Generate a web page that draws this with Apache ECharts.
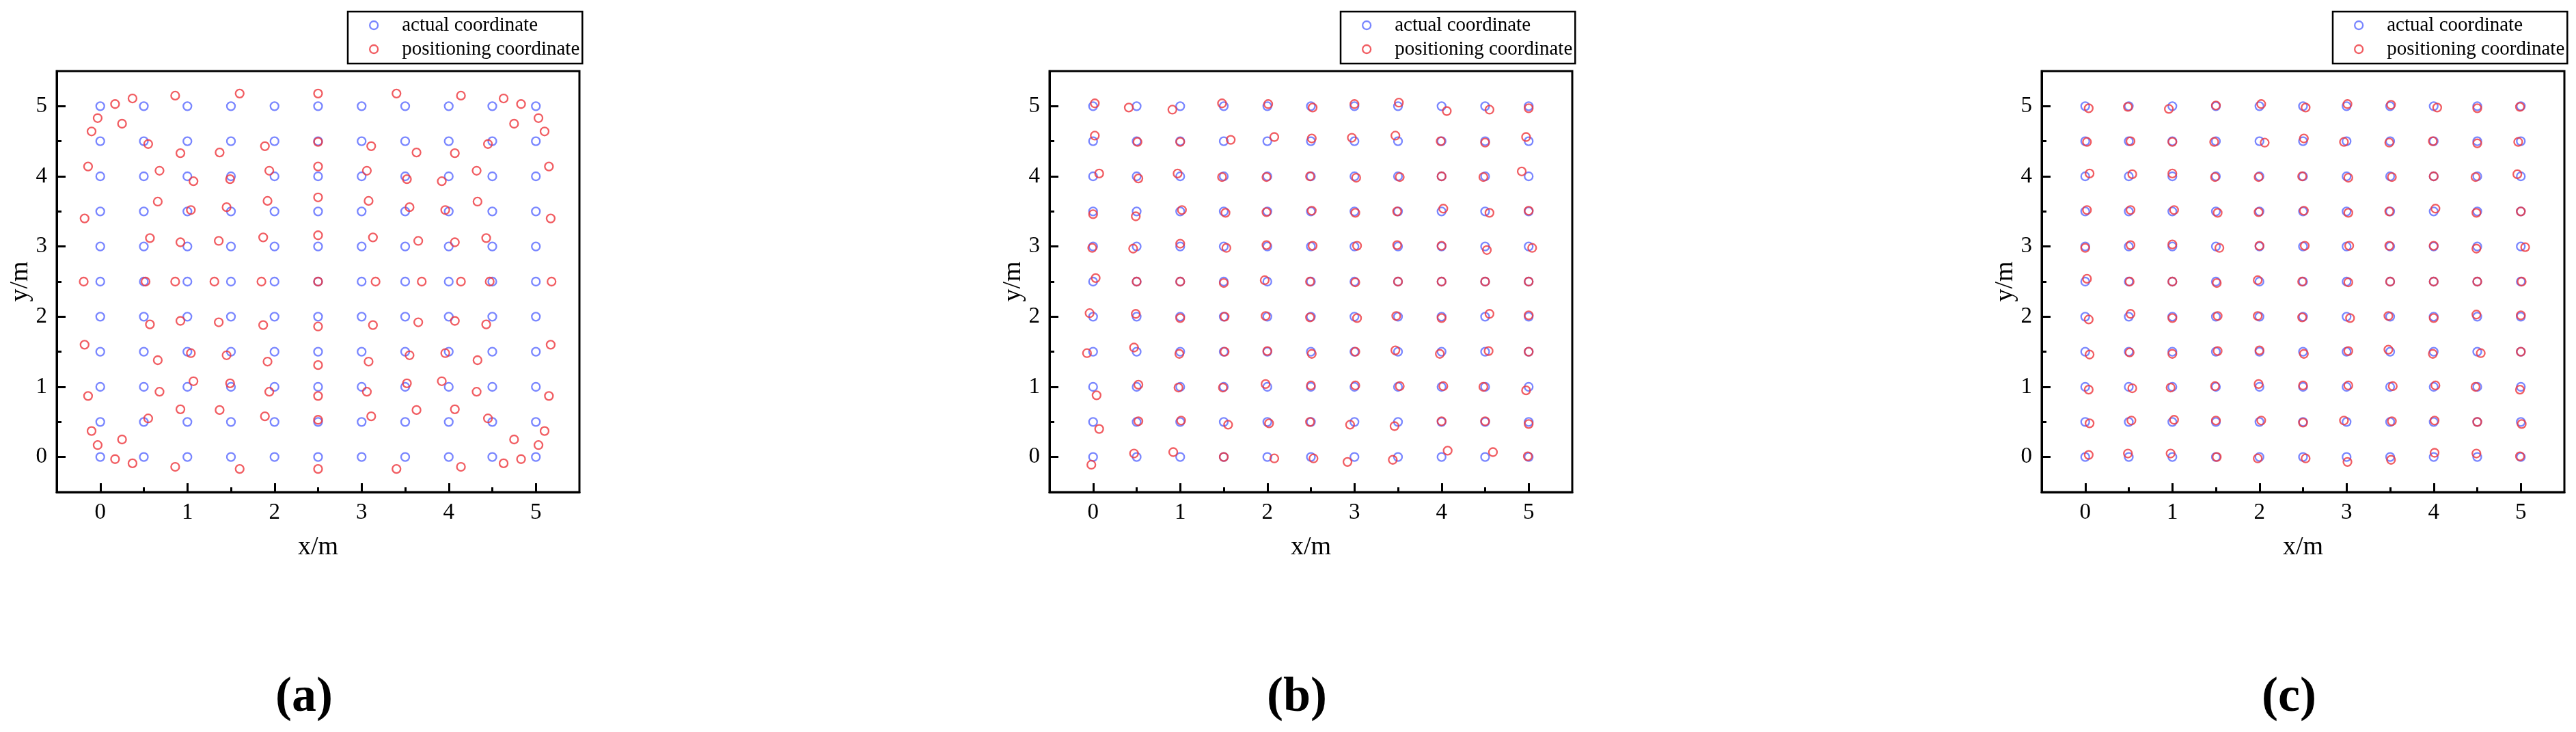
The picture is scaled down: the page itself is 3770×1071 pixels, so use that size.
<!DOCTYPE html>
<html><head><meta charset="utf-8">
<script src="https://cdn.jsdelivr.net/npm/echarts@6/dist/echarts.min.js"></script>
<style>html,body{margin:0;padding:0;background:#fff}#c{width:3770px;height:1071px}</style>
</head><body><div id="c"></div>
<script>
// ---- data ----
const gridValues = [0, 0.5, 1, 1.5, 2, 2.5, 3, 3.5, 4, 4.5, 5];
const majorTicks = [0, 1, 2, 3, 4, 5];
const minorTicks = [0.5, 1.5, 2.5, 3.5, 4.5];
const panelLabels = ['(a)', '(b)', '(c)'];
const seriesNames = ['actual coordinate', 'positioning coordinate'];
const xName = 'x/m';
const yName = 'y/m';

const posA = [
[0.17,5.03],[0.37,5.11],[0.86,5.15],[1.60,5.18],[2.50,5.18],[3.40,5.18],[4.14,5.15],[4.63,5.11],[4.83,5.03],
[-0.03,4.83],[5.03,4.83],[0.25,4.75],[4.75,4.75],[-0.10,4.64],[5.10,4.64],
[0.55,4.46],[0.92,4.33],[1.37,4.34],[1.89,4.43],[2.50,4.49],[3.11,4.43],[3.63,4.34],[4.07,4.33],[4.45,4.46],[-0.14,4.14],[5.15,4.14],
[0.68,4.08],[1.07,3.93],[1.49,3.96],[1.94,4.08],[2.50,4.14],[3.06,4.08],[3.52,3.96],[3.92,3.93],[4.32,4.08],
[-0.18,3.40],[0.66,3.64],[1.04,3.52],[1.45,3.56],[1.92,3.65],[2.50,3.70],[3.08,3.65],[3.55,3.56],[3.96,3.52],[4.33,3.64],[5.17,3.40],
[0.57,3.12],[0.92,3.06],[1.36,3.08],[1.87,3.13],[2.50,3.16],[3.13,3.13],[3.65,3.08],[4.07,3.06],[4.43,3.12],
[-0.19,2.5],[0.52,2.5],[0.86,2.5],[1.31,2.5],[1.85,2.5],[2.50,2.5],[3.16,2.5],[3.69,2.5],[4.14,2.5],[4.47,2.5],[5.18,2.5],
[0.57,1.89],[0.92,1.94],[1.36,1.92],[1.87,1.88],[2.50,1.86],[3.13,1.88],[3.65,1.92],[4.07,1.94],[4.43,1.89],
[-0.18,1.60],[0.66,1.38],[1.04,1.48],[1.45,1.45],[1.92,1.36],[2.50,1.31],[3.08,1.36],[3.55,1.45],[3.96,1.48],[4.33,1.38],[5.17,1.60],
[0.68,0.93],[1.07,1.08],[1.49,1.05],[1.94,0.93],[2.50,0.87],[3.06,0.93],[3.52,1.05],[3.92,1.08],[4.32,0.93],[-0.14,0.87],[5.15,0.87],
[0.55,0.55],[0.92,0.68],[1.37,0.67],[1.89,0.58],[2.50,0.53],[3.11,0.58],[3.63,0.67],[4.07,0.68],[4.45,0.55],
[-0.10,0.37],[5.10,0.37],[0.25,0.25],[4.75,0.25],[-0.03,0.17],[5.03,0.17],
[0.17,-0.03],[0.37,-0.09],[0.86,-0.14],[1.60,-0.17],[2.50,-0.17],[3.40,-0.17],[4.14,-0.14],[4.63,-0.09],[4.83,-0.03]
];

const posB = [
[0.02,5.04],[0.41,4.98],[0.91,4.95],[1.48,5.04],[2.01,5.03],[2.52,4.98],[3.00,5.03],[3.51,5.05],[4.06,4.93],[4.55,4.95],[5.00,4.97],
[0.02,4.58],[0.51,4.49],[1.00,4.49],[1.58,4.52],[2.08,4.56],[2.51,4.54],[2.97,4.55],[3.47,4.58],[3.99,4.50],[4.50,4.48],[4.97,4.56],
[0.07,4.04],[0.52,3.97],[0.97,4.04],[1.48,3.99],[1.99,3.99],[2.49,4.00],[3.02,3.98],[3.52,3.99],[4.00,4.00],[4.48,3.99],[4.92,4.07],
[0.00,3.46],[0.49,3.43],[1.02,3.52],[1.52,3.48],[1.99,3.49],[2.51,3.51],[3.01,3.48],[3.49,3.50],[4.02,3.54],[4.55,3.48],[5.00,3.51],
[-0.01,2.98],[0.46,2.97],[1.00,3.04],[1.53,2.98],[1.99,3.02],[2.52,3.01],[3.03,3.01],[3.49,3.02],[4.00,3.01],[4.52,2.95],[5.04,2.98],
[0.03,2.55],[0.50,2.50],[1.00,2.50],[1.50,2.48],[1.97,2.52],[2.49,2.50],[3.01,2.49],[3.50,2.50],[4.00,2.50],[4.50,2.50],[5.00,2.50],
[-0.04,2.05],[0.49,2.04],[1.00,1.98],[1.51,2.00],[1.98,2.01],[2.49,1.99],[3.03,1.98],[3.48,2.01],[4.00,1.98],[4.55,2.04],[5.00,2.02],
[-0.07,1.48],[0.47,1.56],[0.99,1.47],[1.51,1.50],[2.00,1.51],[2.51,1.47],[3.01,1.50],[3.47,1.52],[3.98,1.47],[4.54,1.51],[5.00,1.50],
[0.04,0.88],[0.52,1.03],[0.98,0.99],[1.49,0.99],[1.98,1.04],[2.50,1.02],[3.01,1.02],[3.52,1.01],[4.02,1.01],[4.48,1.00],[4.97,0.95],
[0.07,0.40],[0.52,0.51],[1.01,0.52],[1.55,0.46],[2.02,0.48],[2.49,0.50],[2.95,0.46],[3.46,0.44],[4.00,0.51],[4.50,0.51],[5.00,0.47],
[-0.02,-0.11],[0.47,0.05],[0.92,0.07],[1.50,0.00],[2.08,-0.02],[2.53,-0.02],[2.92,-0.07],[3.44,-0.04],[4.07,0.09],[4.59,0.07],[4.99,0.01]
];

const posC = [
[0.04,4.97],[0.49,4.99],[0.96,4.96],[1.50,5.01],[2.02,5.03],[2.53,4.98],[3.01,5.03],[3.51,5.02],[4.04,4.98],[4.50,4.97],[4.99,4.99],
[0.02,4.49],[0.52,4.50],[1.00,4.49],[1.48,4.49],[2.06,4.48],[2.51,4.54],[2.97,4.49],[3.49,4.48],[3.99,4.50],[4.50,4.47],[4.97,4.49],
[0.05,4.04],[0.54,4.03],[1.00,4.04],[1.49,3.99],[1.99,3.99],[2.49,4.00],[3.02,3.98],[3.52,3.99],[4.00,4.00],[4.48,3.99],[4.96,4.03],
[0.02,3.52],[0.52,3.52],[1.02,3.52],[1.52,3.48],[1.99,3.49],[2.51,3.51],[3.02,3.48],[3.49,3.50],[4.02,3.54],[4.49,3.48],[5.00,3.50],
[0.00,2.98],[0.52,3.02],[1.00,3.03],[1.54,2.98],[2.00,3.01],[2.52,3.01],[3.03,3.01],[3.49,3.01],[4.00,3.01],[4.49,2.97],[5.05,2.99],
[0.02,2.54],[0.51,2.50],[1.00,2.50],[1.51,2.48],[1.98,2.52],[2.49,2.50],[3.02,2.49],[3.50,2.50],[4.00,2.50],[4.50,2.50],[5.01,2.50],
[0.04,1.96],[0.52,2.04],[1.00,1.98],[1.52,2.01],[1.98,2.01],[2.49,1.99],[3.04,1.98],[3.48,2.01],[4.00,1.98],[4.49,2.03],[5.00,2.02],
[0.05,1.46],[0.51,1.49],[1.00,1.47],[1.52,1.51],[2.00,1.52],[2.51,1.47],[3.02,1.51],[3.48,1.53],[3.99,1.47],[4.54,1.48],[5.00,1.50],
[0.04,0.96],[0.54,0.98],[0.98,0.99],[1.49,1.01],[1.99,1.04],[2.50,1.02],[3.02,1.02],[3.53,1.01],[4.02,1.02],[4.48,1.00],[4.99,0.96],
[0.05,0.48],[0.53,0.52],[1.02,0.53],[1.50,0.52],[2.02,0.52],[2.50,0.49],[2.97,0.52],[3.52,0.51],[4.01,0.52],[4.50,0.50],[5.01,0.47],
[0.04,0.03],[0.49,0.05],[0.98,0.05],[1.51,0.00],[1.98,-0.02],[2.53,-0.02],[3.01,-0.07],[3.51,-0.04],[4.01,0.06],[4.49,0.05],[4.99,0.01]
];

// actual coordinates: every pair of grid values
const actual = [];
gridValues.forEach(function (y) { gridValues.forEach(function (x) { actual.push([x, y]); }); });
const positioned = [posA, posB, posC];

// ---- layout / style ----
const FONT = '"Liberation Serif", "Times New Roman", serif';
const BLUE = '#5868ff';
const RED = '#ee343b';
const gridLefts = [83, 1536, 2988];
const GRID_TOP = 104, GRID_W = 765, GRID_H = 616;

const option = {
  animation: false,
  backgroundColor: '#fff',
  grid: [], xAxis: [], yAxis: [], series: [], legend: [], graphic: []
};

function mainAxis(i, isX) {
  return {
    gridIndex: i, type: 'value', min: -0.5, max: 5.5,
    position: isX ? 'bottom' : 'left',
    axisLine: { show: true, onZero: false, lineStyle: { color: '#000', width: 3 } },
    axisTick: { show: true, inside: true, length: 13, customValues: majorTicks, lineStyle: { color: '#000', width: 3 } },
    axisLabel: { show: true, customValues: majorTicks, margin: 14, fontFamily: FONT, fontSize: 33, color: '#000' },
    splitLine: { show: false },
    name: isX ? xName : yName,
    nameLocation: 'middle',
    nameGap: isX ? 62 : 32,
    nameTextStyle: { fontFamily: FONT, fontSize: 38, color: '#000' }
  };
}
function minorAxis(i, isX) {
  return {
    gridIndex: i, type: 'value', min: -0.5, max: 5.5,
    position: isX ? 'bottom' : 'left',
    axisLine: { show: false, onZero: false },
    axisTick: { show: true, inside: true, length: 7, customValues: minorTicks, lineStyle: { color: '#000', width: 3 } },
    axisLabel: { show: false },
    splitLine: { show: false }
  };
}

for (let i = 0; i < 3; i++) {
  const L = gridLefts[i];
  option.grid.push({ left: L, top: GRID_TOP, width: GRID_W, height: GRID_H, show: true,
    borderColor: '#000', borderWidth: 3, backgroundColor: 'transparent' });
  option.xAxis.push(mainAxis(i, true), minorAxis(i, true));
  option.yAxis.push(mainAxis(i, false), minorAxis(i, false));
  option.series.push({
    type: 'scatter', name: seriesNames[0], xAxisIndex: 2 * i, yAxisIndex: 2 * i,
    symbol: 'circle', symbolSize: 12,
    itemStyle: { color: 'rgba(0,0,0,0)', borderColor: BLUE, borderWidth: 2.3 },
    emphasis: { disabled: true }, data: actual, z: 3
  });
  option.series.push({
    type: 'scatter', name: seriesNames[1], xAxisIndex: 2 * i, yAxisIndex: 2 * i,
    symbol: 'circle', symbolSize: 12,
    itemStyle: { color: 'rgba(0,0,0,0)', borderColor: RED, borderWidth: 2.3 },
    emphasis: { disabled: true }, data: positioned[i], z: 4
  });
  option.legend.push({
    left: L + 426, top: 17, orient: 'vertical',
    backgroundColor: '#fff', borderColor: '#000', borderWidth: 2.5,
    padding: [5, 4, 6, 31], itemWidth: 12, itemHeight: 12, itemGap: 5,
    selectedMode: false,
    textStyle: { fontFamily: FONT, fontSize: 29, color: '#000', lineHeight: 30, padding: [0, 0, 0, 30] },
    data: [
      { name: seriesNames[0], icon: 'circle', itemStyle: { color: 'rgba(0,0,0,0)', borderColor: BLUE, borderWidth: 2.3 } },
      { name: seriesNames[1], icon: 'circle', itemStyle: { color: 'rgba(0,0,0,0)', borderColor: RED, borderWidth: 2.3 } }
    ]
  });
  option.graphic.push({
    type: 'text', x: L + 362, y: 1021,
    style: { text: panelLabels[i], font: 'bold 72px ' + FONT, fill: '#000', align: 'center', verticalAlign: 'middle' }
  });
}

const chart = echarts.init(document.getElementById('c'), null, { renderer: 'canvas' });
chart.setOption(option);
</script>
</body></html>
